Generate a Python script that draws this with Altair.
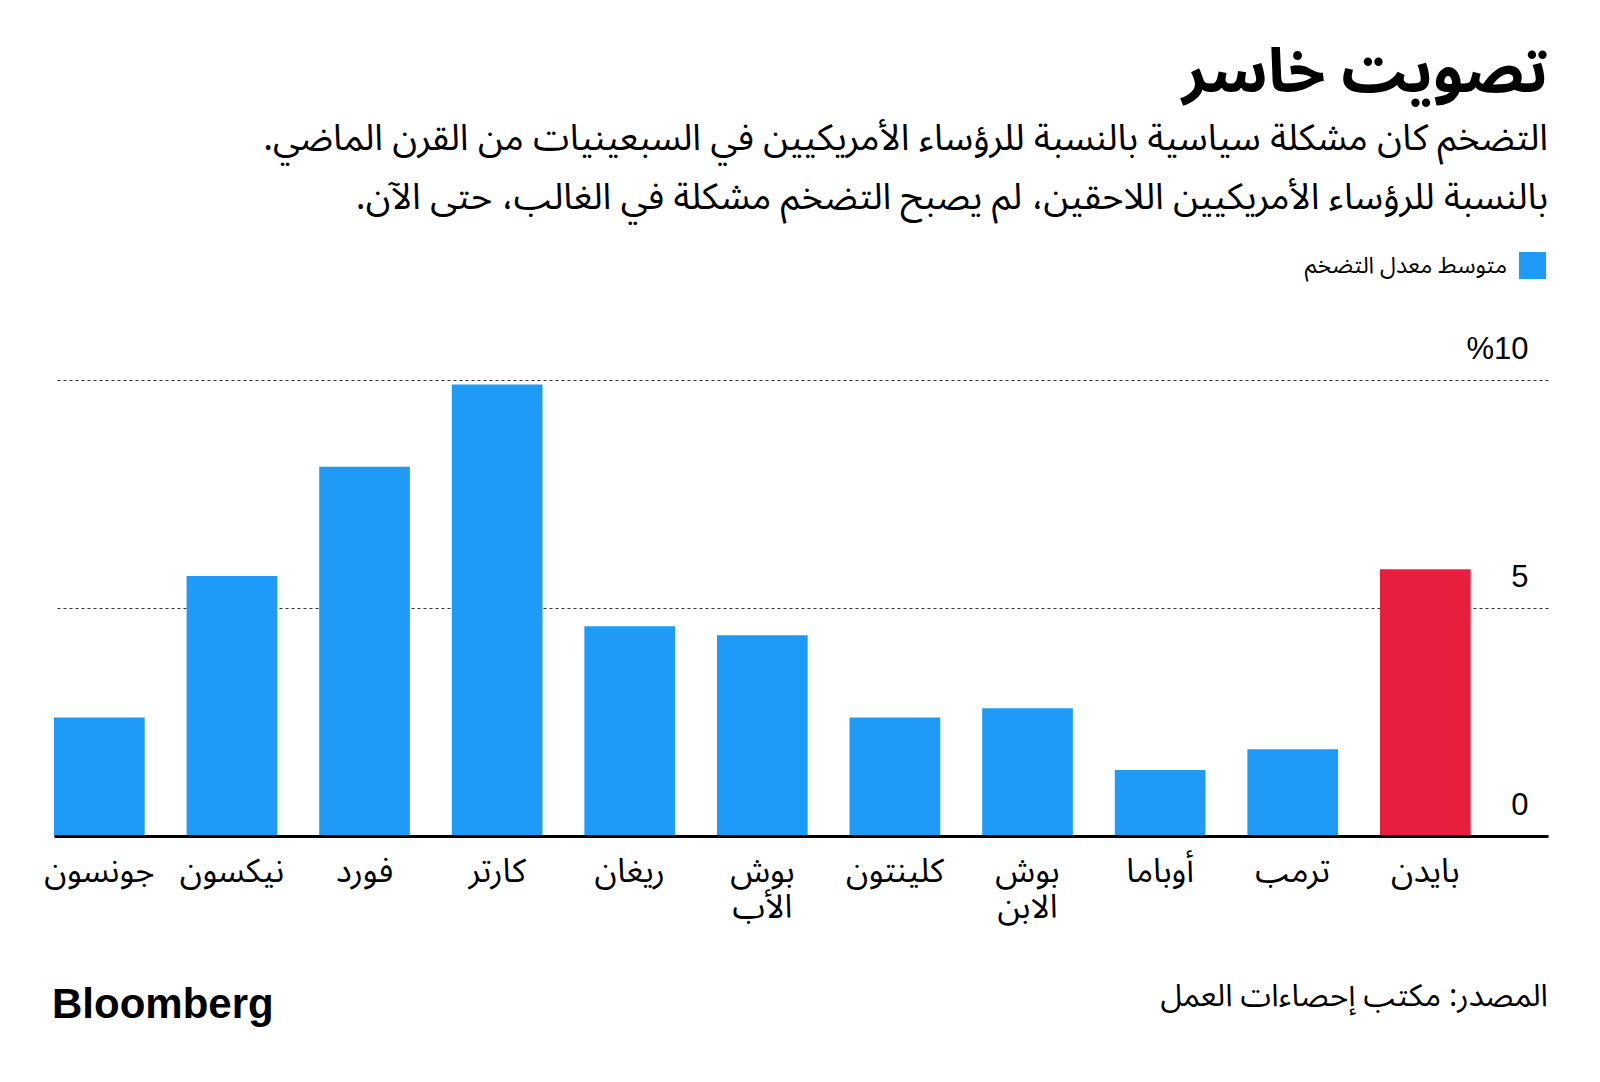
import altair as alt
import pandas as pd

# ---- data ----
presidents = ["جونسون", "نيكسون", "فورد", "كارتر", "ريغان", "بوش الأب",
              "كلينتون", "بوش الابن", "أوباما", "ترمب", "بايدن"]
inflation = [2.6, 5.7, 8.1, 9.9, 4.6, 4.4, 2.6, 2.8, 1.45, 1.9, 5.85]
series_label = "متوسط معدل التضخم"
highlight_label = "بايدن"
series = [series_label] * 10 + [highlight_label]
y_ticks = [0, 5, 10]

title_text = "تصويت خاسر"
subtitle_lines = [
    "التضخم كان مشكلة سياسية بالنسبة للرؤساء الأمريكيين في السبعينيات من القرن الماضي.\u200f",
    "بالنسبة للرؤساء الأمريكيين اللاحقين، لم يصبح التضخم مشكلة في الغالب، حتى الآن.\u200f",
]
source_text = "المصدر: مكتب إحصاءات العمل"
brand_text = "Bloomberg"

BLUE = "#1D9BF6"
RED = "#E82040"
AR_FONT = "Noto Sans Arabic, Noto Sans, DejaVu Sans, sans-serif"
NUM_FONT = "Liberation Sans, Arial, sans-serif"

W, H = 1494, 456

df = pd.DataFrame({"president": presidents, "inflation": inflation, "series": series})

bars = alt.Chart(df).mark_bar().encode(
    x=alt.X("president:N", sort=presidents,
            scale=alt.Scale(paddingInner=0.316, paddingOuter=0.2916, align=0),
            axis=alt.Axis(title=None, labelAngle=0, ticks=False, domain=True,
                          domainColor="#000000", domainWidth=3, grid=False,
                          labelExpr="split(datum.label, ' ')",
                          labelFont=AR_FONT, labelFontSize=33, labelLineHeight=36,
                          labelColor="#000000", labelPadding=19, labelOverlap=False,
                          zindex=1)),
    y=alt.Y("inflation:Q", scale=alt.Scale(domain=[0, 10], nice=False),
            axis=alt.Axis(title=None, orient="right", values=y_ticks, grid=True,
                          gridDash=[3, 3], gridColor="#333333", gridWidth=1,
                          domain=False, ticks=False, labelAlign="right",
                          labelPadding=-20, labelBaseline="alphabetic",
                          labelOffset=-22, labelFont=NUM_FONT, labelFontSize=31,
                          labelColor="#000000",
                          labelExpr="datum.value == 10 ? '%10' : datum.label")),
    color=alt.Color("series:N",
                    scale=alt.Scale(domain=[series_label, highlight_label], range=[BLUE, RED]),
                    legend=None),
)

legend_df = pd.DataFrame({"label": [series_label]})
legend_swatch = alt.Chart(legend_df).mark_square(size=729, opacity=1, color=BLUE).encode(
    x=alt.value(1478.5), y=alt.value(-114.5))
legend_text = alt.Chart(legend_df).mark_text(
    align="right", baseline="middle", font=AR_FONT, fontSize=23, color="#000000"
).encode(text="label:N", x=alt.value(1453), y=alt.value(-114))

footer_df = pd.DataFrame({"source": [source_text], "brand": [brand_text]})

source = alt.Chart(footer_df).mark_text(
    align="right", baseline="middle", font=AR_FONT, fontSize=31, color="#000000"
).encode(text="source:N", x=alt.value(W), y=alt.value(617))

brand = alt.Chart(footer_df).mark_text(
    align="left", baseline="alphabetic", font=NUM_FONT, fontSize=42,
    fontWeight="bold", color="#000000"
).encode(text="brand:N", x=alt.value(-2), y=alt.value(638))

chart = alt.layer(bars, legend_swatch, legend_text, source, brand).properties(
    width=W, height=H, background="#FFFFFF",
    title=alt.Title(title_text, subtitle=subtitle_lines, anchor="end",
                    font=AR_FONT, fontSize=61, fontWeight="bold", color="#000000",
                    subtitleFont=AR_FONT, subtitleFontSize=36.6, subtitleColor="#000000",
                    subtitleLineHeight=59, subtitlePadding=16, offset=34),
    padding={"left": 46, "top": 372, "right": 44, "bottom": 238},
    autosize=alt.AutoSizeParams(type="none"),
).configure_view(stroke=None)

chart.save("out.html", embed_options={"renderer": "svg", "actions": False})
